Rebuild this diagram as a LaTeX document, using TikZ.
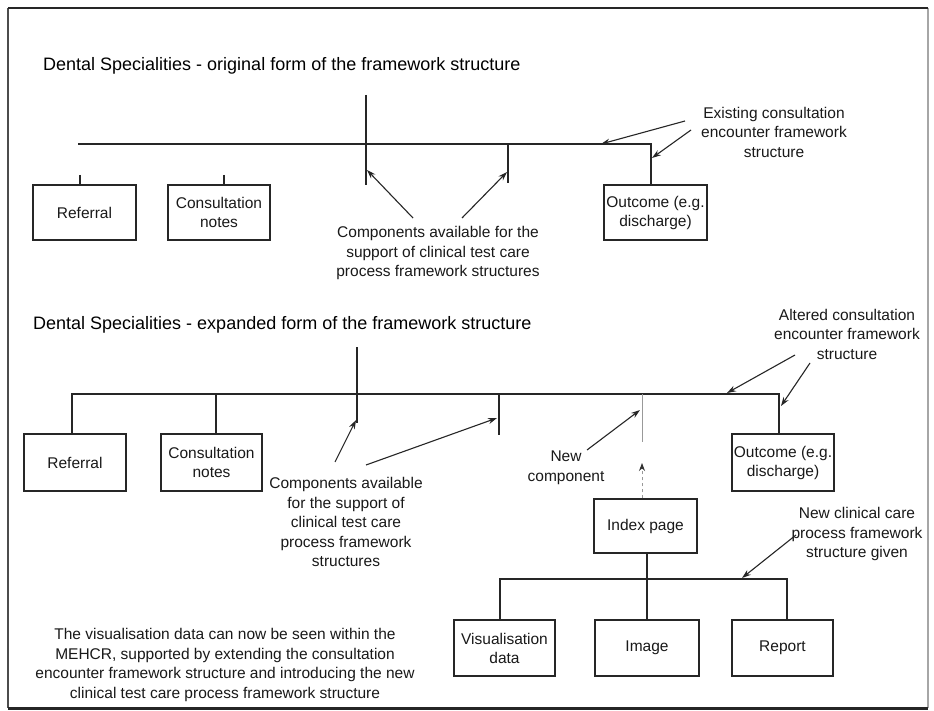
\documentclass[tikz,border=0pt]{standalone}
\usepackage{fontspec}
\setmainfont{Liberation Sans}
\usetikzlibrary{arrows.meta}
\begin{document}
\begin{tikzpicture}[x=1pt,y=-1pt,
  ink/.style={draw=black!85, line width=1.3pt},
  box/.style={ink, fill=white, inner sep=1pt, align=center,
    font=\fontsize{15.5}{19}\selectfont, text=black!90},
  lbl/.style={align=center, font=\fontsize{15.5}{19.5}\selectfont,
    text=black!90, inner sep=0pt},
  ttl/.style={anchor=west, font=\fontsize{18}{22}\selectfont,
    text=black, inner sep=0pt},
  pointer/.style={draw=black!85, line width=1.1pt,
    -{Stealth[length=9pt,width=6pt]}},
  faint/.style={draw=black!40, line width=0.8pt},
]
\useasboundingbox (0,0) rectangle (934,711);
\fill[white] (0,0) rectangle (934,711);

% outer frame
\draw[line width=1.5pt, black!70] (8,8) -- (8,708);
\draw[line width=1.2pt, black!35] (928,8) -- (928,708);
\draw[line width=2.6pt, black!85] (8,8) -- (928,8);
\draw[line width=3pt, black!85] (8,708) -- (928,708);

% ---------------- original form ----------------
\node[ttl] (title1) at (43,66) {Dental Specialities - original form of the framework structure};

\node[box, minimum width=103pt, minimum height=55pt] (ref1) at (84.5,212.5) {Referral};
\node[box, minimum width=102pt, minimum height=55pt] (con1) at (219,212.5) {Consultation\\notes};
\node[box, minimum width=103pt, minimum height=55pt, inner sep=0pt] (out1) at (655.5,212.5) {Outcome (e.g.\\discharge)};

\coordinate (bus1w) at (78,144);
\coordinate (bus1e) at (651,144);
\draw[ink] (bus1w) -- (bus1e) -- (bus1e |- out1.north);
\coordinate (v1top) at (366,95);
\coordinate (v1bot) at (366,185);
\draw[ink] (v1top) -- (v1bot);
\coordinate (v2top) at (508,144);
\coordinate (v2bot) at (508,183);
\draw[ink] (v2top) -- (v2bot);
\coordinate (t1) at (80,175);
\coordinate (t2) at (224,175);
\draw[ink] (t1) -- (t1 |- ref1.north);
\draw[ink] (t2) -- (t2 |- con1.north);

\node[lbl] (comp1) at (438,253) {Components available for the\\support of clinical test care\\process framework structures};
\coordinate (comp1a) at (413,218);
\coordinate (comp1b) at (462,218);
\coordinate (comp1atip) at (367,170);
\coordinate (comp1btip) at (507,172);
\draw[pointer] (comp1a) -- (comp1atip);
\draw[pointer] (comp1b) -- (comp1btip);

\node[lbl] (exist) at (774,132) {Existing consultation\\encounter framework\\structure};
\coordinate (exista) at (685,121);
\coordinate (existb) at (691,130);
\coordinate (existatip) at (601,144);
\coordinate (existbtip) at (652,158);
\draw[pointer] (exista) -- (existatip);
\draw[pointer] (existb) -- (existbtip);

% ---------------- expanded form ----------------
\node[ttl] (title2) at (33,325) {Dental Specialities - expanded form of the framework structure};

\node[box, minimum width=102pt, minimum height=57pt] (ref2) at (75,462.5) {Referral};
\node[box, minimum width=101pt, minimum height=57pt] (con2) at (211.5,462.5) {Consultation\\notes};
\node[box, minimum width=102pt, minimum height=57pt, inner sep=0pt] (out2) at (783,462.5) {Outcome (e.g.\\discharge)};

\coordinate (bus2w) at (72,394);
\coordinate (bus2e) at (779,394);
\draw[ink] (bus2w |- ref2.north) -- (bus2w) -- (bus2e) -- (bus2e |- out2.north);
\coordinate (bus2c) at (216,394);
\draw[ink] (bus2c) -- (bus2c |- con2.north);
\coordinate (w1top) at (357,347);
\coordinate (w1bot) at (357,423);
\draw[ink] (w1top) -- (w1bot);
\coordinate (w2top) at (499,394);
\coordinate (w2bot) at (499,435);
\draw[ink] (w2top) -- (w2bot);
\coordinate (w3top) at (642,394);
\coordinate (w3bot) at (642,442);
\draw[faint] (w3top) -- (w3bot);

\node[lbl] (comp2) at (346,522) {Components available\\for the support of\\clinical test care\\process framework\\structures};
\coordinate (comp2a) at (335,462);
\coordinate (comp2b) at (366,465);
\coordinate (comp2atip) at (356,420);
\coordinate (comp2btip) at (497,418);
\draw[pointer] (comp2a) -- (comp2atip);
\draw[pointer] (comp2b) -- (comp2btip);

\node[lbl] (newc) at (566,468) {New\\component};
\coordinate (newca) at (587,450);
\coordinate (newctip) at (640,410);
\draw[pointer] (newca) -- (newctip);

\node[lbl] (alter) at (847,334) {Altered consultation\\encounter framework\\structure};
\coordinate (altera) at (795,355);
\coordinate (alterb) at (810,363);
\coordinate (alteratip) at (727,393);
\coordinate (alterbtip) at (781,406);
\draw[pointer] (altera) -- (alteratip);
\draw[pointer] (alterb) -- (alterbtip);

% new clinical care process structure
\node[box, minimum width=103pt, minimum height=54pt] (idx) at (645.5,526) {Index page};
\node[box, minimum width=101pt, minimum height=56pt] (vis) at (504.5,648) {Visualisation\\data};
\node[box, minimum width=104pt, minimum height=56pt] (img) at (647,648) {Image};
\node[box, minimum width=101pt, minimum height=56pt] (rep) at (782.5,648) {Report};

\coordinate (idxup) at (642,463);
\draw[faint, dash pattern=on 3pt off 3pt,
  -{Stealth[length=8pt,width=6pt,color=black!80]}]
  (idx.north -| idxup) -- (idxup);

\coordinate (bus3w) at (500,579);
\coordinate (bus3e) at (787,579);
\draw[ink] (idx.south -| img) -- (img.north);
\draw[ink] (bus3w |- vis.north) -- (bus3w) -- (bus3e) -- (bus3e |- rep.north);

\node[lbl] (newcl) at (857,534) {New clinical care\\process framework\\structure given};
\coordinate (newcla) at (796,535);
\coordinate (newcltip) at (742,578);
\draw[pointer] (newcla) -- (newcltip);

\node[lbl] (summary) at (225,665) {The visualisation data can now be seen within the\\MEHCR, supported by extending the consultation\\encounter framework structure and introducing the new\\clinical test care process framework structure};
\end{tikzpicture}
\end{document}
